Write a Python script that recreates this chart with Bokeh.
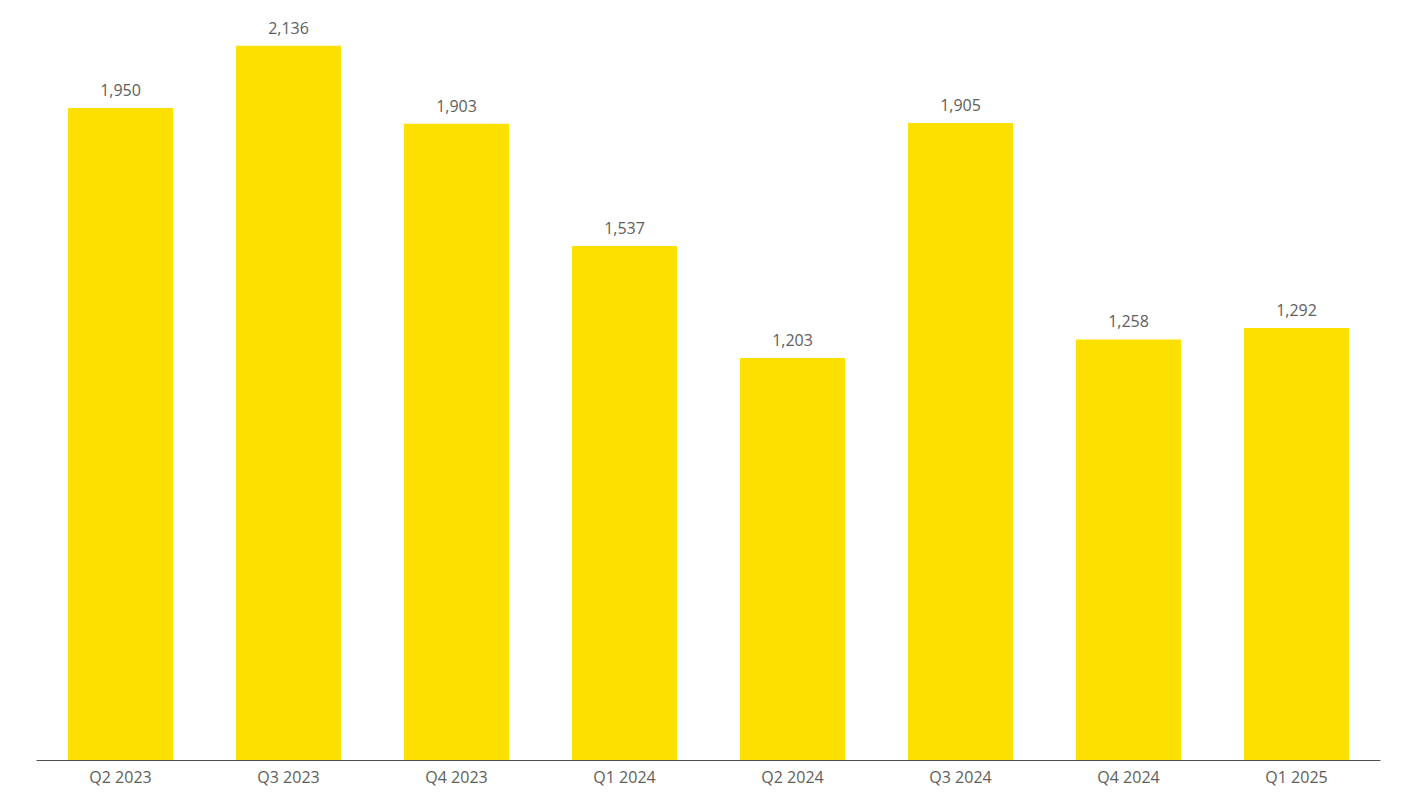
from bokeh.plotting import figure
from bokeh.models import ColumnDataSource, Range1d, FactorRange
from bokeh.core.properties import value
from bokeh.embed import file_html
from bokeh.resources import INLINE

quarters = ["Q2 2023", "Q3 2023", "Q4 2023", "Q1 2024", "Q2 2024", "Q3 2024", "Q4 2024", "Q1 2025"]
counts = [1950, 2136, 1903, 1537, 1203, 1905, 1258, 1292]
count_labels = [f"{v:,}" for v in counts]

BAR = "#FDE000"
TXT = "#605E5C"
FONT = "Open Sans"

src = ColumnDataSource(dict(q=quarters, v=counts, lab=count_labels))

p = figure(x_range=FactorRange(*quarters, range_padding=0), y_range=Range1d(0, 2247),
           frame_width=1344, frame_height=752, output_backend="svg", toolbar_location=None,
           min_border_left=36, min_border_right=30, min_border_top=8, min_border_bottom=0)
p.vbar(x="q", top="v", width=0.625, source=src, color=BAR, line_color=None)
p.text(x="q", y="v", text="lab", source=src, text_align="center", text_baseline="bottom",
       y_offset=-12, text_font=value(FONT), text_font_size="16px", text_color=TXT)

p.yaxis.visible = False
p.xgrid.visible = False
p.ygrid.visible = False
p.outline_line_color = None
p.xaxis.axis_line_color = "#505050"
p.xaxis.axis_line_width = 1
p.xaxis.major_tick_line_color = None
p.xaxis.minor_tick_line_color = None
p.xaxis.major_tick_out = 0
p.xaxis.major_tick_in = 0
p.xaxis.minor_tick_out = 0
p.xaxis.major_label_standoff = 5
p.xaxis.major_label_text_font = FONT
p.xaxis.major_label_text_font_size = "16px"
p.xaxis.major_label_text_color = TXT

open("out.html", "w").write(file_html(p, INLINE))
